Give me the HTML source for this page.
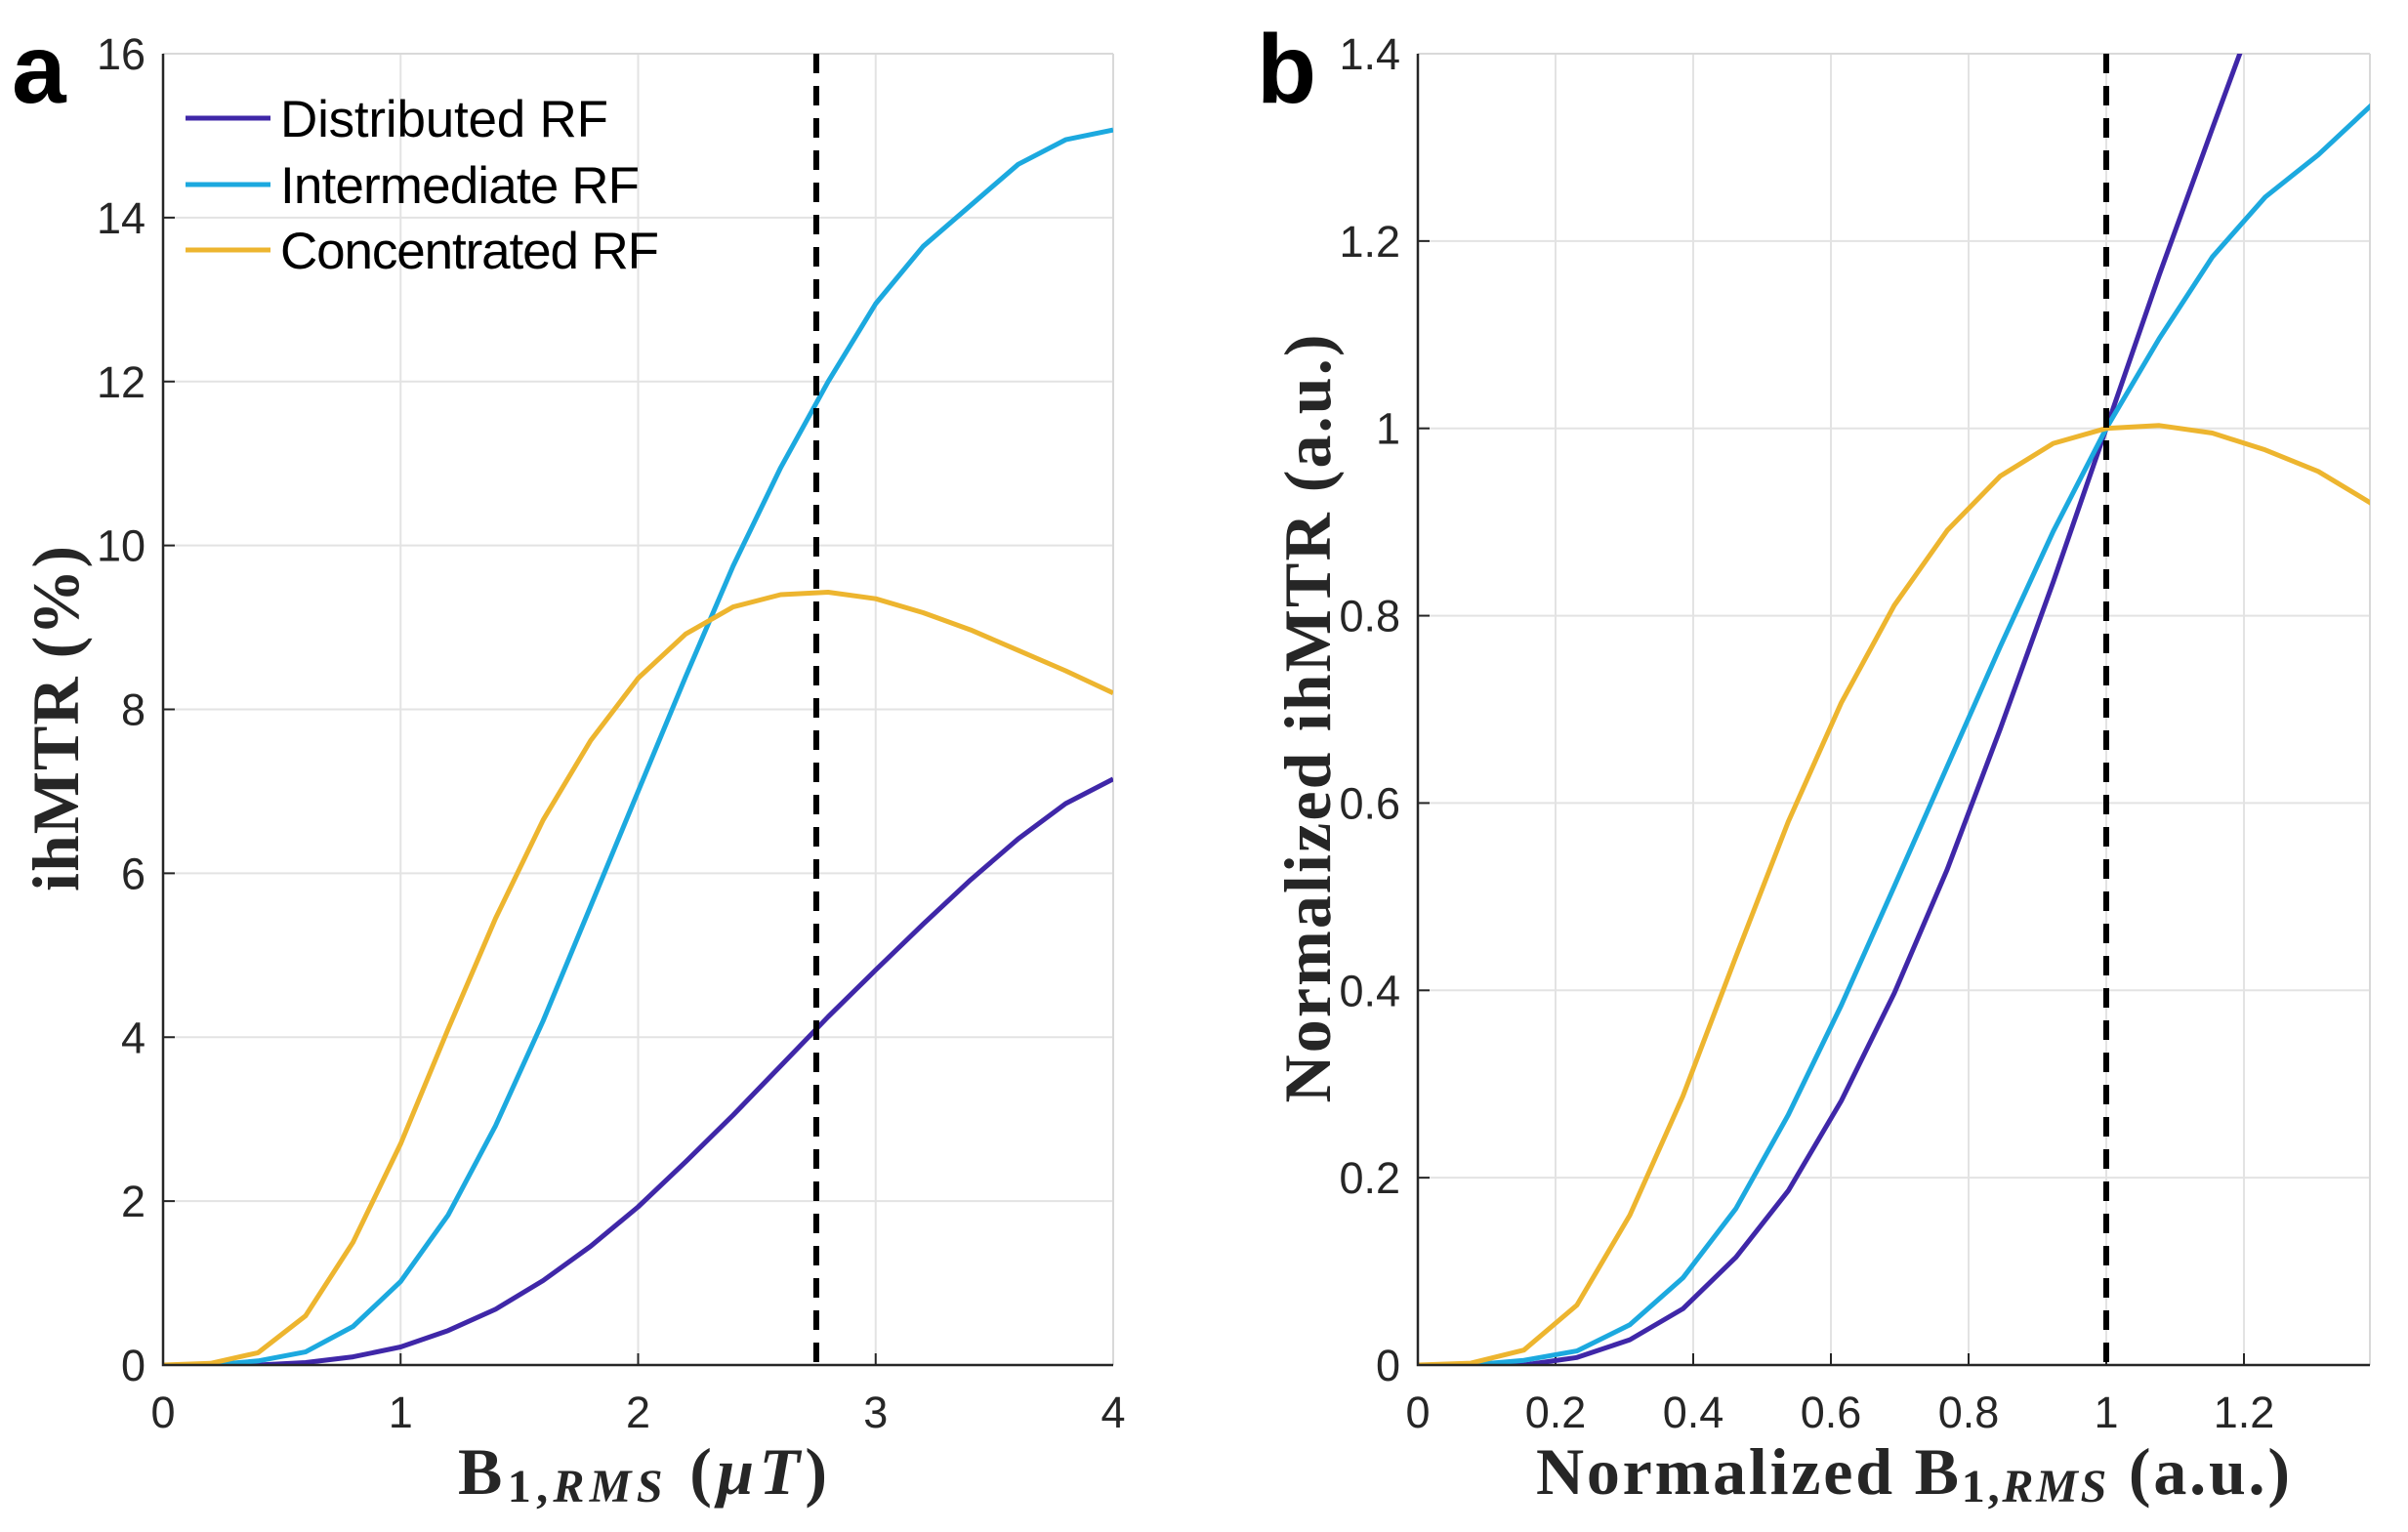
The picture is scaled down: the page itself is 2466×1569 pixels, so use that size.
<!DOCTYPE html>
<html><head><meta charset="utf-8"><style>
html,body{margin:0;padding:0;background:#fff;}
svg{display:block;}
.tick{font-family:"Liberation Sans",sans-serif;font-size:45px;fill:#262626;}
.ttl{font-family:"Liberation Serif",serif;font-weight:bold;font-size:68px;fill:#262626;}
.leg{font-family:"Liberation Sans",sans-serif;font-size:53px;fill:#000;}
.pl{font-family:"Liberation Sans",sans-serif;font-weight:bold;font-size:100px;fill:#000;}
</style></head><body>
<svg id="fig" width="2466" height="1569" viewBox="0 0 2466 1569" xmlns="http://www.w3.org/2000/svg">
<rect width="2466" height="1569" fill="#fff"/>
<text class="pl" x="12" y="105">a</text>
<text class="pl" x="1287" y="105">b</text>
<g id="pa"></g>
<g id="pb"></g>
<text class="ttl" x="469" y="1530" textLength="378" lengthAdjust="spacing">B<tspan font-size="48" dy="8">1,</tspan><tspan font-size="48" font-style="italic">RMS</tspan><tspan dy="-8"> (</tspan><tspan font-style="italic">μT</tspan>)</text>
<text class="ttl" transform="translate(80,736) rotate(-90)" text-anchor="middle" textLength="354">ihMTR (%)</text>
<text class="ttl" x="1573" y="1530" textLength="772" lengthAdjust="spacing">Normalized B<tspan font-size="48" dy="8">1,</tspan><tspan font-size="48" font-style="italic">RMS</tspan><tspan dy="-8"> (a.u.)</tspan></text>
<text class="ttl" transform="translate(1362,736) rotate(-90)" text-anchor="middle" textLength="787">Normalized ihMTR (a.u.)</text>
<g>
<line x1="190" y1="121" x2="277" y2="121" stroke="#3F27A8" stroke-width="5"/>
<text class="leg" x="287" y="140" textLength="336">Distributed RF</text>
<line x1="190" y1="189" x2="277" y2="189" stroke="#1CA9DF" stroke-width="5"/>
<text class="leg" x="287" y="208" textLength="368">Intermediate RF</text>
<line x1="190" y1="256" x2="277" y2="256" stroke="#EDB52F" stroke-width="5"/>
<text class="leg" x="287" y="275" textLength="388">Concentrated RF</text>
</g>
</svg>
<script>
// Panel a data
const xA = [0,0.2,0.4,0.6,0.8,1.0,1.2,1.4,1.6,1.8,2.0,2.2,2.4,2.6,2.8,3.0,3.2,3.4,3.6,3.8,4.0];
const distA = [0,0,0,0.03,0.1,0.22,0.42,0.68,1.03,1.45,1.93,2.48,3.05,3.65,4.25,4.82,5.38,5.92,6.42,6.85,7.15];
const interA = [0,0,0.05,0.16,0.47,1.02,1.83,2.92,4.2,5.6,7.0,8.4,9.75,10.95,12.0,12.95,13.65,14.15,14.65,14.95,15.07];
const concA = [0,0.02,0.15,0.6,1.5,2.7,4.1,5.45,6.65,7.62,8.38,8.92,9.25,9.4,9.43,9.35,9.18,8.97,8.72,8.47,8.2];
const xTicksA = [0,1,2,3,4];
const yTicksA = [0,2,4,6,8,10,12,14,16];
const dashA = [2.75];
// Panel b data
const xB = [0,0.077,0.154,0.231,0.308,0.385,0.462,0.538,0.615,0.692,0.769,0.846,0.923,1.0,1.077,1.154,1.231,1.308,1.385];
const distB = [0,0,0,0.008,0.027,0.06,0.115,0.186,0.282,0.397,0.529,0.679,0.836,1.0,1.164,1.32,1.474,1.622,1.759];
const interB = [0,0,0.005,0.015,0.043,0.093,0.167,0.267,0.384,0.511,0.639,0.767,0.89,1.0,1.096,1.183,1.247,1.292,1.345];
const concB = [0,0.002,0.016,0.064,0.16,0.287,0.436,0.58,0.707,0.811,0.891,0.949,0.984,1.0,1.003,0.995,0.977,0.954,0.92];
const xTicksB = [0,0.2,0.4,0.6,0.8,1,1.2];
const yTicksB = [0,0.2,0.4,0.6,0.8,1,1.2,1.4];
const dashB = [1];

const NS='http://www.w3.org/2000/svg';
function mk(tag,attrs,parent){const e=document.createElementNS(NS,tag);for(const k in attrs)e.setAttribute(k,attrs[k]);parent.appendChild(e);return e;}
const COLORS=['#3F27A8','#1CA9DF','#EDB52F'];
const NAMES=['distributed','intermediate','concentrated'];

function panel(gid,cfg){
  const g=document.getElementById(gid);
  const sx=v=>cfg.x0+(v-cfg.xmin)/(cfg.xmax-cfg.xmin)*(cfg.x1-cfg.x0);
  const sy=v=>cfg.y0-(v-cfg.ymin)/(cfg.ymax-cfg.ymin)*(cfg.y0-cfg.y1);
  const cid=gid+'clip';
  const defs=mk('defs',{},g);
  const cp=mk('clipPath',{id:cid},defs);
  mk('rect',{x:cfg.x0,y:cfg.y1,width:cfg.x1-cfg.x0,height:cfg.y0-cfg.y1},cp);
  cfg.xt.forEach(v=>{
    const l=mk('line',{x1:sx(v),x2:sx(v),y1:cfg.y1,y2:cfg.y0,stroke:'#e3e3e3','stroke-width':2},g);
    
    
    const t=mk('line',{x1:sx(v),x2:sx(v),y1:cfg.y0,y2:cfg.y0-12,stroke:'#262626','stroke-width':2},g);
    
    
    const tx=mk('text',{x:sx(v),y:cfg.y0+64,'text-anchor':'middle',class:'tick'},g);
    tx.textContent=String(v);
    
    
  });
  cfg.yt.forEach(v=>{
    const l=mk('line',{x1:cfg.x0,x2:cfg.x1,y1:sy(v),y2:sy(v),stroke:'#e3e3e3','stroke-width':2},g);
    
    
    const t=mk('line',{x1:cfg.x0,x2:cfg.x0+12,y1:sy(v),y2:sy(v),stroke:'#262626','stroke-width':2},g);
    
    
    const tx=mk('text',{x:cfg.x0-18,y:sy(v)+16,'text-anchor':'end',class:'tick'},g);
    tx.textContent=String(v);
    
    
  });
  const bt=mk('line',{x1:cfg.x0,x2:cfg.x1,y1:cfg.y1,y2:cfg.y1,stroke:'#d9d9d9','stroke-width':2},g);
  
  
  const br=mk('line',{x1:cfg.x1,x2:cfg.x1,y1:cfg.y1,y2:cfg.y0,stroke:'#d9d9d9','stroke-width':2},g);
  
  
  cfg.series.forEach((s,i)=>{
    const pts=cfg.xs.map((x,j)=>sx(x).toFixed(1)+','+sy(s[j]).toFixed(1)).join(' ');
    const p=mk('polyline',{points:pts,fill:'none',stroke:COLORS[i],'stroke-width':5,'stroke-linejoin':'round','clip-path':'url(#'+cid+')'},g);
    
    
  });
  cfg.dash.forEach(v=>{
    const d=mk('line',{x1:sx(v),x2:sx(v),y1:cfg.y1,y2:cfg.y0,stroke:'#000','stroke-width':6,'stroke-dasharray':'20 13'},g);
    
    
  });
  const ax=mk('path',{d:`M${cfg.x0},${cfg.y1} L${cfg.x0},${cfg.y0} L${cfg.x1},${cfg.y0}`,fill:'none',stroke:'#262626','stroke-width':2.5},g);
  
  
}
panel('pa',{x0:167,x1:1140,y0:1398,y1:55,xmin:0,xmax:4,ymin:0,ymax:16,xt:xTicksA,yt:yTicksA,xs:xA,series:[distA,interA,concA],dash:dashA});
panel('pb',{x0:1452,x1:2427,y0:1398,y1:55,xmin:0,xmax:1.383,ymin:0,ymax:1.4,xt:xTicksB,yt:yTicksB,xs:xB,series:[distB,interB,concB],dash:dashB});
</script>
</body></html>
